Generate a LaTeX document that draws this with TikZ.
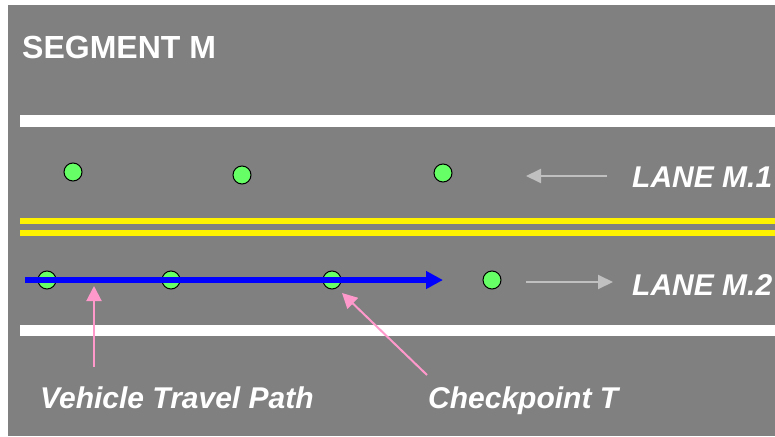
\documentclass[tikz,border=0pt]{standalone}
\usepackage{fontspec}
\setmainfont{Liberation Sans}
\usetikzlibrary{arrows.meta}
\definecolor{road}{HTML}{808080}
\definecolor{dotgreen}{HTML}{66FF66}
\definecolor{pinkish}{HTML}{FF99CC}
\definecolor{lightgray}{HTML}{C0C0C0}

\begin{document}
\begin{tikzpicture}[x=1pt,y=-1pt,
	chk/.style={circle, draw=black, line width=1pt, fill=dotgreen, minimum size=18pt, inner sep=0pt},
	lbl/.style={anchor=base west, text=white, inner sep=0pt, font=\fontsize{30}{36}\selectfont\bfseries\itshape},
	pointer/.style={pinkish, line width=2pt, -{Triangle[length=15pt,width=15pt]}},
	dirarrow/.style={lightgray, line width=2pt, -{Triangle[length=15pt,width=14pt]}}]

	\useasboundingbox (0,0) rectangle (775,436);

	% Fundo
	\fill[road] (8,5) rectangle (775,436);
	\node[anchor=base west, text=white, inner sep=0pt, font=\fontsize{32}{38}\selectfont\bfseries] (titulo) at (22,58) {SEGMENT M};

	% Faixas da pista
	\fill[white] (20,115) rectangle (775,127);
	\fill[white] (20,325) rectangle (775,336);
	\fill[yellow] (20,218) rectangle (775,224);
	\fill[yellow] (20,230) rectangle (775,236);

	% Pontos da faixa M.1
	\node[chk] (a1) at (73,172) {};
	\node[chk] (a2) at (242,175) {};
	\node[chk] (a3) at (443,173) {};

	% Pontos da faixa M.2
	\node[chk] (b1) at (47,280) {};
	\node[chk] (b2) at (171,280) {};
	\node[chk] (b3) at (332,280) {};
	\node[chk] (b4) at (492,280) {};

	% Trajeto do veiculo
	\coordinate (inicio) at (25,280);
	\coordinate (fim) at (443,280);
	\draw[blue, line width=6pt, -{Triangle[length=17pt,width=17pt]}] (inicio) -- (fim);

	% Sentido das faixas
	\node[lbl] (m1) at (632,187) {LANE M.1};
	\node[lbl] (m2) at (632,295) {LANE M.2};
	\coordinate (s1a) at (607,176);
	\coordinate (s1b) at (526,176);
	\coordinate (s2a) at (526,282);
	\coordinate (s2b) at (613,282);
	\draw[dirarrow] (s1a) -- (s1b);
	\draw[dirarrow] (s2a) -- (s2b);

	% Legendas
	\node[lbl] (trajeto) at (40,408) {Vehicle Travel Path};
	\node[lbl] (ponto) at (428,408) {Checkpoint T};
	\coordinate (p1) at (94,367);
	\coordinate (p1tip) at (94,286);
	\coordinate (p2) at (427,375);
	\coordinate (p2tip) at (342,293);
	\draw[pointer] (p1) -- (p1tip);
	\draw[pointer] (p2) -- (p2tip);

\end{tikzpicture}
\end{document}
